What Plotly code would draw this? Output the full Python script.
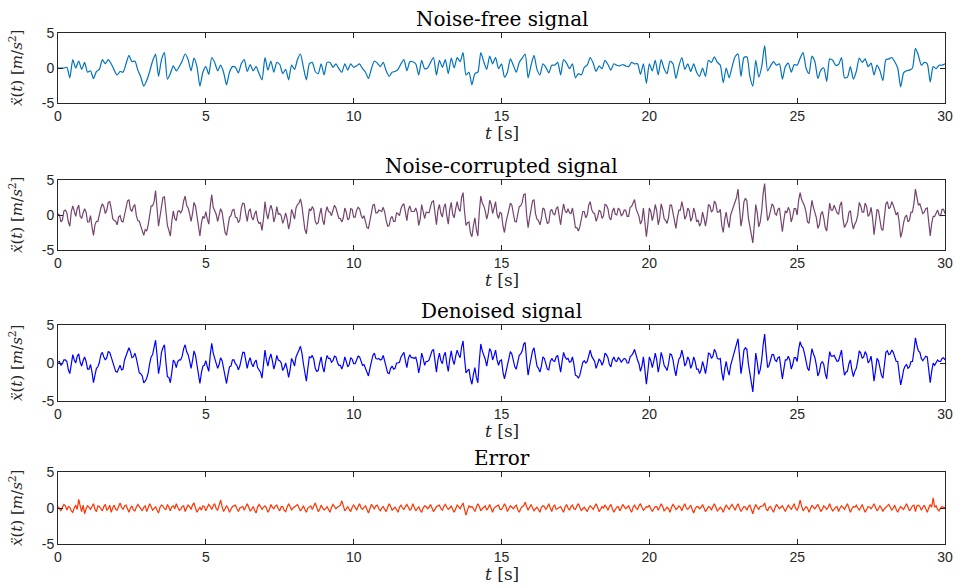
import plotly.graph_objects as go

# ---------------- data ----------------
# noise-free signal, sampled every 0.1 s (0..30 s)
dt_clean = 0.1
clean = [
 0, 0, 0, 0.1, -1.4, 1.2, 0.0, 1.0, -0.2, 0.8,
 -0.6, -0.4, -1.5, -0.5, -0.2, 1.2, 0.6, 1.2, 0.6, -0.3,
 -1.0, -0.5, -0.6, 0.6, 1.8, 0.9, 1.0, -0.3, -1.3, -2.6,
 -1.8, -0.5, 1.0, 2.0, -1.2, 1.2, 2.2, -1.6, -0.8, 0.3,
 -0.4, 0.2, 1.0, 2.0, 1.2, -0.4, 1.4, 0.2, -2.6, -0.6,
 0.2, -0.9, 1.5, 0.8, -0.4, 0.4, -0.6, -2.4, -0.6, 0.2,
 0.1, -0.7, 0.6, 1.2, -0.5, 0.5, -0.4, 0.2, -0.8, -1.7,
 1.5, -0.3, 1.0, -0.6, 0.8, 0.5, -0.8, -0.2, -1.7, 0.4,
 -0.2, 1.2, 2.0, 0.1, -1.7, 0.6, 0.8, -0.5, -0.8, 0.6,
 -1.0, 0.8, 0.8, 0.1, 0.6, -0.1, -0.6, 0.6, -0.3, 0.6,
 0.1, 0.3, 0.6, -0.1, -0.6, -1.5, -0.1, 1.0, 0.7, 0.2,
 0.8, -0.4, -1.2, -0.6, -0.5, -0.2, 0.6, 1.2, -0.4, 0.9,
 0.9, 0.6, -1.0, 1.1, -0.1, 0.0, 0.8, 1.5, -1.0, 1.1,
 0.1, 1.2, -0.8, 1.4, 0.0, 1.5, 0.9, 2.2, -1.0, -0.6,
 -2.4, -0.8, -0.6, 2.2, 0.9, -0.2, 1.7, 0.6, 1.5, -0.1,
 0.6, -1.3, -0.6, 1.3, 0.4, -0.6, 0.8, 1.4, 2.0, -1.4,
 0.4, 1.8, -0.2, -1.0, 0.6, 0.1, -0.7, 0.4, 0.4, 0.8,
 -1.0, 1.2, 0.7, -0.1, 0.6, -1.4, -0.8, -1.0, 0.1, 0.4,
 1.5, 0.7, -0.5, 0.3, -0.1, 1.1, 0.5, -0.3, 0.6, 0.4,
 0.3, 0.5, 0.3, 0.2, 0.8, 0.6, 0.6, -0.9, 0.6, -2.2,
 0.6, -0.4, 1.1, -1.0, 1.2, -0.1, -0.8, 1.0, 0.6, -1.5,
 0.3, 1.5, -0.2, 0.6, -0.5, 0.6, -0.6, -1.2, 0.0, -1.2,
 1.1, 0.8, 1.6, 0.8, 0.4, -2.1, 0.0, -1.4, 0.2, 1.6,
 2.0, -1.2, 1.5, 1.6, -1.2, -2.6, 1.1, -1.3, 0.2, 3.2,
 -0.4, 0.3, 0.9, 0.4, 0.6, -1.6, 0.2, 0.7, -0.6, 0.5,
 0.4, 1.4, 2.2, 0.0, -0.8, 1.7, 0.9, -1.5, -0.3, 0.0,
 -1.9, 1.3, 1.1, 0.4, 0.5, 1.5, -1.4, -1.3, 0.2, -1.6,
 -0.5, 1.4, 0.8, 1.3, 0.2, 0.7, -1.0, 0.4, -0.4, -1.8,
 1.2, 1.3, 1.5, 0.9, 0.0, -2.7, -0.7, -0.4, -0.3, 0.0,
 2.8, 1.8, 0.4, 0.8, 0.6, -2.0, 0.2, -0.1, 0.4, 0.4,
 0.6]

# noisy, denoised and error signals, sampled every 0.05 s (0..30 s)
dt_fine = 0.05
noisy = [
 0.2, 0.0, -1.0, -0.7, 0.6, 0.7, 0.3, -1.0, -1.6, 0.5, 1.3, 0.4, -0.2, 0.9, 1.4, -0.2, -0.5, 0.3, 0.9, 0.4,
 -1.0, -1.0, -0.1, -1.7, -2.9, -1.4, -0.9, -0.9, 0.3, 1.0, 1.6, 1.2, 0.2, 0.7, 1.8, 1.9, 0.9, -0.5, -0.8, -0.9,
 -1.4, -0.3, -0.1, -0.9, -1.0, 0.2, 1.1, 2.0, 2.2, 0.8, 0.5, 1.2, 1.5, -0.1, -0.8, -0.9, -1.6, -2.4, -2.9, -2.1,
 -2.3, -1.4, 0.1, 1.3, 1.3, 1.9, 3.5, 1.2, -1.6, -0.2, 1.6, 2.5, 2.6, 0.0, -1.5, -2.2, -3.0, -0.9, 0.6, -0.5,
 -0.8, 0.5, 0.6, 0.3, 0.7, 2.0, 2.7, 1.4, 1.0, 0.2, -0.9, 0.2, 1.8, 1.3, -0.3, -2.0, -3.0, -1.2, -0.2, -0.5,
 0.5, -0.6, -1.3, 1.3, 2.9, 1.1, 0.5, 0.1, -0.9, -0.1, 0.9, 0.4, -1.0, -2.5, -2.9, -1.4, -0.3, -0.1, 0.7, 0.8,
 -0.3, -0.4, -1.1, -0.7, 1.0, 1.7, 1.6, 0.2, -0.9, 0.5, 0.9, -0.3, -0.7, 0.1, 0.6, -0.8, -1.2, -1.1, -2.2, -0.5,
 1.9, 0.3, -0.6, 0.6, 1.4, 0.7, -1.0, -0.2, 1.2, 0.1, 0.2, -0.1, -1.2, -0.6, 0.3, -0.6, -2.0, -1.1, 0.8, 0.2,
 -0.6, 1.0, 1.5, 1.7, 2.3, 1.3, -0.3, -2.1, -2.7, -0.7, 0.9, 0.6, 1.2, 0.8, -0.9, -1.3, -1.1, 0.1, 1.0, -0.7,
 -1.4, 0.3, 1.2, 0.5, 0.4, -0.1, 0.5, 1.4, 1.0, 0.0, -0.5, -0.5, -1.0, -0.4, 1.0, 0.4, -0.7, -0.5, 0.9, 0.8,
 -0.3, -0.3, 0.7, 1.1, 0.9, 0.0, -0.5, -0.1, -0.9, -1.8, -1.9, -0.7, 0.3, 1.4, 1.5, 0.3, 0.3, 0.7, 0.6, 0.5,
 1.1, 0.4, -0.8, -1.6, -1.5, -0.5, -0.2, -0.9, -0.9, 0.3, 0.2, -0.1, 0.9, 1.4, 1.6, 0.2, -0.8, 0.8, 1.3, 0.5,
 0.5, 0.5, 1.0, 0.3, -1.5, -0.6, 1.5, 0.7, -0.5, 0.4, 0.4, 0.3, 1.2, 1.9, 2.0, 0.2, -1.4, 0.7, 1.5, 0.2,
 -0.3, 1.1, 1.6, -0.1, -1.3, 0.8, 1.8, 0.1, -0.4, 0.9, 1.9, 0.9, 0.5, 2.5, 3.2, 0.5, -1.5, -1.1, -1.0, -2.6,
 -3.1, -1.5, -0.4, -2.1, -3.0, 0.5, 2.7, 1.7, 1.3, 0.6, -0.6, 0.3, 2.1, 1.6, 0.2, 1.0, 1.9, 0.1, -0.5, 0.4,
 0.2, -1.6, -2.5, -1.1, -0.2, 0.4, 1.7, 1.4, 0.0, -0.9, -1.0, 0.4, 1.2, 1.3, 1.8, 2.9, 3.0, 0.0, -1.8, -0.4,
 0.8, 2.0, 2.2, 0.2, -0.6, -0.8, -1.4, -0.5, 1.0, 0.8, -0.3, -1.2, -1.1, 0.5, 0.8, 0.2, 0.0, 0.9, 1.2, -0.5,
 -1.4, 0.3, 1.6, 0.6, 0.3, 0.9, 0.3, 0.2, 1.0, -0.3, -1.8, -1.8, -2.3, -1.7, -0.6, 0.5, 0.5, -0.4, 0.0, 1.4,
 1.9, 0.8, 0.3, 0.2, -0.9, -0.3, 0.7, 0.5, -0.5, -0.1, 1.5, 1.4, 0.9, -0.4, -0.7, 0.5, 1.0, 0.1, 0.0, 1.0,
 0.7, -0.1, 0.1, 0.7, 0.7, -0.2, -0.2, 1.1, 1.2, 1.6, 2.2, 0.9, 0.2, -0.2, -1.3, -0.8, 1.0, -0.9, -3.1, -1.3,
 1.0, 0.5, -0.8, 0.1, 1.5, 0.6, -1.4, -0.5, 1.6, 0.8, -0.5, -0.8, -1.2, -0.3, 1.4, 1.4, 0.2, -1.1, -1.9, -0.3,
 0.7, 0.7, 1.9, 0.9, -0.6, -0.1, 1.0, 0.6, -0.9, -0.4, 1.0, 0.3, -1.0, -0.7, -1.6, -1.1, 0.4, -0.5, -1.6, -0.3,
 1.5, 1.3, 0.4, 0.7, 2.0, 1.6, 0.4, 0.4, 0.8, -1.5, -2.5, -0.6, 0.4, -1.0, -1.8, 0.0, 0.6, 1.2, 2.0, 2.5,
 3.7, 1.3, -1.6, -0.3, 1.9, 2.4, 2.0, -0.4, -1.6, -2.5, -4.0, -1.4, 1.5, 0.3, -1.7, -1.0, 0.6, 3.1, 4.5, 1.5,
 -0.8, -0.3, 0.7, 1.6, 1.3, 0.2, 0.0, 0.8, 1.0, -1.1, -2.4, -0.7, 0.6, 0.3, 1.1, 0.6, -1.0, -0.2, 0.9, 0.9,
 0.0, 2.1, 3.2, 2.2, 1.8, 1.3, 0.4, -1.0, -1.2, 0.9, 2.1, 1.1, 0.5, -0.4, -1.9, -1.4, 0.1, 0.5, -0.4, -1.8,
 -2.3, 0.0, 1.7, 0.7, 0.7, 1.4, 0.8, 0.3, 0.1, 1.4, 1.9, -0.6, -1.8, -1.3, -0.9, 0.4, 0.6, -1.0, -2.0, -1.3,
 -0.9, 0.0, 1.8, 1.3, 0.4, 0.4, 1.7, 1.2, -0.2, 0.1, 1.1, -0.4, -2.8, -1.1, 0.8, 0.6, -0.8, -2.0, -2.2, 0.0,
 1.6, 1.9, 0.9, 1.1, 1.9, 1.4, 0.5, 0.0, 0.4, -1.0, -3.2, -2.4, -1.1, -0.3, 0.0, -1.0, -0.7, 0.4, 0.4, 1.7,
 3.7, 2.3, 1.4, 1.6, 0.8, 0.2, 0.4, 0.9, 1.0, -1.6, -3.0, -1.2, -0.2, -0.2, 0.3, 0.7, 0.0, -0.1, 0.8, 0.8,
 0.2]

denoised = [
 0.1, 0.2, -0.3, -0.1, 0.4, 0.4, 0.2, -0.9, -1.4, 0.0, 1.1, 0.4, 0.0, 0.9, 1.2, 0.1, -0.4, 0.3, 0.8, 0.2,
 -0.8, -0.8, -0.2, -1.2, -2.6, -1.6, -0.7, -0.5, 0.1, 1.1, 1.4, 0.8, 0.4, 0.7, 1.5, 1.4, 0.8, 0.2, -0.6, -1.1,
 -1.2, -0.6, -0.3, -0.9, -0.8, 0.4, 0.9, 1.4, 2.0, 1.5, 0.7, 0.8, 1.3, 0.6, -0.6, -1.3, -1.4, -1.7, -2.6, -2.4,
 -2.0, -1.3, -0.1, 0.8, 1.1, 2.0, 3.0, 1.0, -1.4, -0.3, 1.4, 2.0, 2.4, 0.1, -1.8, -1.9, -2.6, -1.2, 0.4, 0.1,
 -0.6, 0.2, 0.4, 0.4, 0.9, 1.9, 2.4, 1.5, 1.1, 0.3, -0.7, 0.3, 1.6, 1.0, -0.1, -1.6, -2.7, -1.3, -0.4, -0.3,
 0.3, -0.5, -1.1, 1.1, 2.6, 1.3, 0.6, 0.2, -0.7, -0.2, 0.7, 0.3, -0.8, -1.9, -2.7, -1.5, -0.5, -0.4, 0.4, 0.4,
 -0.1, -0.3, -0.9, -0.4, 0.8, 1.4, 1.4, 0.3, -0.7, 0.2, 0.7, -0.1, -0.5, 0.1, 0.4, -0.6, -1.0, -1.2, -2.0, -0.4,
 1.7, 0.4, -0.4, 0.6, 1.2, 0.3, -0.8, -0.1, 1.0, 0.4, 0.3, 0.0, -1.0, -0.6, 0.0, -0.8, -1.9, -0.9, 0.6, 0.2,
 -0.4, 0.8, 1.4, 1.7, 2.2, 1.3, -0.1, -1.6, -2.4, -0.7, 0.8, 0.7, 1.0, 0.5, -0.7, -1.1, -1.0, 0.0, 0.8, -0.5,
 -1.2, 0.1, 1.0, 0.6, 0.6, 0.1, 0.3, 0.9, 0.8, 0.1, -0.3, -0.3, -0.8, -0.2, 0.8, 0.2, -0.5, -0.2, 0.7, 0.5,
 -0.1, -0.1, 0.5, 0.9, 0.8, 0.1, -0.3, -0.2, -0.8, -1.4, -1.7, -0.7, 0.1, 1.0, 1.3, 0.6, 0.5, 0.6, 0.4, 0.5,
 1.0, 0.3, -0.6, -1.3, -1.4, -0.7, -0.4, -0.8, -0.7, 0.0, 0.0, 0.1, 0.8, 1.2, 1.4, 0.3, -0.6, 0.6, 1.1, 0.7,
 0.7, 0.6, 0.8, 0.0, -1.3, -0.3, 1.3, 0.6, -0.3, 0.2, 0.2, 0.4, 1.0, 1.6, 1.8, 0.2, -1.2, 0.4, 1.3, 0.3,
 -0.1, 1.0, 1.4, -0.1, -1.1, 0.5, 1.6, 0.4, -0.2, 0.9, 1.7, 1.1, 0.7, 2.1, 2.9, 0.6, -1.3, -1.0, -0.8, -2.1,
 -2.8, -1.5, -0.6, -1.9, -2.6, 0.3, 2.5, 1.6, 1.1, 0.5, -0.4, 0.6, 1.9, 1.5, 0.4, 1.0, 1.7, 0.4, -0.3, 0.3,
 0.4, -1.2, -2.1, -1.2, -0.4, 0.4, 1.5, 1.2, 0.2, -0.5, -0.8, 0.3, 1.0, 1.2, 1.6, 2.5, 2.7, 0.3, -1.6, -0.4,
 0.6, 1.6, 2.0, 0.5, -0.4, -0.7, -1.2, -0.4, 0.8, 0.6, -0.1, -0.8, -0.9, 0.2, 0.6, 0.3, 0.2, 0.8, 1.0, -0.3,
 -1.2, 0.2, 1.4, 0.8, 0.5, 0.6, 0.1, 0.2, 0.8, -0.2, -1.6, -1.7, -2.0, -1.6, -0.8, 0.1, 0.3, 0.0, 0.2, 1.2,
 1.7, 0.9, 0.5, 0.2, -0.7, -0.2, 0.5, 0.3, -0.3, 0.2, 1.3, 1.1, 0.7, -0.2, -0.5, 0.4, 0.8, 0.3, 0.2, 0.7,
 0.5, 0.1, 0.3, 0.6, 0.5, 0.0, 0.0, 0.8, 1.0, 1.3, 1.8, 0.9, 0.4, -0.1, -1.1, -0.4, 0.8, -0.9, -2.8, -1.1,
 0.8, 0.3, -0.6, 0.2, 1.3, 0.4, -1.2, -0.2, 1.4, 0.7, -0.3, -0.6, -1.0, -0.1, 1.2, 1.1, 0.4, -0.8, -1.7, -0.4,
 0.5, 0.8, 1.7, 0.8, -0.4, 0.0, 0.8, 0.4, -0.7, -0.2, 0.8, 0.2, -0.8, -0.8, -1.4, -0.9, 0.2, -0.5, -1.4, -0.2,
 1.3, 1.2, 0.6, 0.9, 1.8, 1.4, 0.6, 0.5, 0.6, -1.2, -2.3, -0.8, 0.2, -0.9, -1.6, -0.3, 0.4, 1.0, 1.8, 2.3,
 3.2, 1.0, -1.4, -0.1, 1.7, 2.0, 1.8, -0.1, -1.4, -2.4, -3.8, -1.4, 1.3, 0.1, -1.5, -0.9, 0.4, 2.4, 3.8, 1.4,
 -0.6, -0.3, 0.5, 1.1, 1.1, 0.4, 0.2, 0.7, 0.8, -0.9, -2.1, -0.8, 0.4, 0.4, 0.9, 0.4, -0.8, -0.2, 0.7, 0.7,
 0.2, 1.8, 2.8, 2.2, 2.0, 1.2, 0.2, -0.7, -1.0, 0.7, 1.9, 1.2, 0.7, -0.3, -1.7, -1.2, -0.1, 0.2, -0.2, -1.4,
 -2.1, -0.1, 1.5, 0.9, 0.9, 1.0, 0.6, 0.2, 0.3, 1.2, 1.7, -0.2, -1.6, -1.2, -1.1, -0.1, 0.4, -0.9, -1.8, -1.1,
 -0.7, 0.3, 1.6, 1.3, 0.6, 0.8, 1.5, 1.1, 0.0, 0.3, 0.9, -0.6, -2.4, -1.0, 0.6, 0.3, -0.6, -1.6, -2.0, -0.1,
 1.4, 1.6, 1.1, 1.2, 1.7, 1.4, 0.7, 0.2, 0.2, -1.2, -2.9, -2.0, -0.9, -0.4, -0.2, -0.7, -0.5, 0.2, 0.2, 1.6,
 3.3, 2.3, 1.6, 1.4, 0.6, 0.3, 0.6, 0.9, 0.8, -1.1, -2.6, -1.1, 0.0, -0.3, 0.1, 0.4, 0.2, 0.2, 0.6, 0.7,
 0.4]

error = [
 0.2, -0.1, -0.4, 0.1, 0.5, 0.3, -0.3, 0.2, 0.1, -0.4, -0.6, 0.0, 0.4, -0.2, 1.2, 0.3, -0.5, 0.4, -0.8, -0.1,
 0.3, 0.1, -0.2, 0.2, 0.6, -0.2, -0.5, 0.3, 0.2, -0.1, -0.4, 0.2, 0.5, -0.3, -0.1, 0.4, -0.6, 0.0, 0.4, -0.2,
 -0.3, 0.2, 0.7, 0.1, -0.2, 0.3, 0.4, -0.1, -0.6, 0.0, 0.3, -0.3, -0.4, 0.1, 0.5, 0.2, -0.2, -0.4, 0.1, 0.3,
 -0.5, 0.0, 0.6, 0.2, -0.3, -0.1, 0.2, -0.3, -0.7, 0.1, 0.4, 0.3, -0.1, -0.2, 0.5, 0.1, -0.4, 0.2, 0.3, -0.1,
 0.6, 0.1, -0.3, -0.2, 0.2, 0.3, -0.5, 0.0, 0.4, 0.2, -0.2, 0.4, 0.7, 0.0, -0.6, -0.2, 0.1, -0.3, 0.3, 0.2,
 -0.4, 0.1, 0.5, 0.2, -0.2, 0.3, 0.6, -0.1, -0.3, 0.4, 1.1, 0.2, -0.5, -0.1, 0.3, 0.0, -0.6, -0.2, 0.2, 0.3,
 0.4, -0.1, -0.5, 0.0, 0.1, 0.2, -0.3, 0.3, 0.6, 0.1, -0.4, -0.2, 0.2, -0.3, -0.7, 0.1, 0.5, 0.2, -0.2, 0.1,
 0.3, 0.0, -0.6, -0.2, 0.5, 0.1, -0.1, 0.3, 0.4, -0.1, -0.4, 0.2, 0.2, -0.3, -0.5, 0.1, 0.6, 0.2, -0.3, 0.0,
 0.1, 0.3, 0.5, 0.1, -0.4, -0.1, 0.3, -0.2, -0.6, 0.0, 0.2, 0.3, -0.2, 0.2, 0.7, 0.1, -0.5, -0.2, 0.4, 0.0,
 -0.3, -0.1, 0.2, -0.2, -0.6, 0.1, 0.5, 0.2, -0.1, 0.1, 0.3, 0.4, 1.0, 0.2, -0.4, -0.1, 0.2, -0.2, -0.5, 0.1,
 0.4, 0.1, -0.3, 0.2, 0.6, 0.0, -0.2, 0.1, 0.3, -0.2, -0.7, -0.1, 0.5, 0.2, -0.1, 0.3, 0.4, -0.1, -0.4, 0.0,
 0.2, -0.2, -0.5, 0.1, 0.6, 0.2, -0.3, -0.1, 0.1, -0.2, -0.6, 0.1, 0.4, 0.0, -0.2, 0.2, 0.5, 0.1, -0.3, -0.1,
 0.6, 0.1, -0.4, -0.1, 0.2, -0.3, -0.6, 0.0, 0.3, 0.2, -0.1, 0.1, 0.5, 0.0, -0.5, -0.2, 0.2, 0.3, 0.4, -0.1,
 -0.3, 0.2, 0.5, 0.1, -0.2, 0.0, 0.3, -0.2, -0.6, -0.1, 0.4, 0.2, -0.1, 0.3, 0.7, -0.2, -1.0, -0.3, 0.3, 0.1,
 0.2, -0.1, -0.5, 0.1, 0.6, 0.2, -0.4, -0.1, 0.1, 0.3, -0.3, 0.0, 0.5, -0.2, -0.6, 0.0, 0.2, 0.3, 0.4, -0.2,
 -0.2, 0.1, 0.6, 0.2, -0.5, -0.1, 0.3, 0.1, -0.1, 0.2, 0.4, -0.2, -0.6, -0.1, 0.2, 0.3, 0.8, 0.2, -0.3, 0.1,
 0.5, 0.0, -0.4, -0.1, 0.1, -0.2, -0.6, 0.1, 0.3, 0.2, -0.2, 0.1, 0.6, 0.0, -0.5, 0.2, 0.4, -0.2, -0.1, 0.1,
 0.2, -0.2, -0.6, 0.1, 0.5, 0.0, -0.3, 0.2, 0.4, -0.1, -0.2, 0.3, 0.6, 0.1, -0.4, -0.1, 0.1, -0.2, -0.5, 0.0,
 0.3, 0.1, -0.2, 0.2, 0.6, 0.1, -0.5, -0.2, 0.2, 0.0, 0.4, 0.1, -0.3, 0.2, 0.5, -0.1, -0.6, -0.2, 0.1, 0.2,
 -0.4, 0.0, 0.5, 0.2, -0.1, 0.1, 0.3, -0.2, -0.6, 0.1, 0.4, 0.0, -0.2, 0.3, 0.6, 0.1, -0.3, -0.1, 0.2, 0.1,
 0.4, -0.1, -0.5, -0.1, 0.2, 0.2, -0.3, 0.1, 0.6, 0.2, -0.4, -0.2, 0.1, -0.1, -0.6, 0.1, 0.5, 0.2, -0.2, 0.0,
 0.3, 0.1, -0.4, 0.2, 0.6, 0.0, -0.2, 0.1, 0.4, -0.2, -0.7, -0.1, 0.2, 0.2, -0.1, 0.1, 0.5, 0.0, -0.5, -0.2,
 0.2, 0.1, -0.3, 0.2, 0.6, 0.1, -0.4, -0.2, 0.1, -0.1, -0.6, 0.0, 0.4, 0.1, -0.2, 0.2, 0.5, 0.1, -0.3, 0.2,
 0.6, 0.0, -0.5, -0.1, 0.2, 0.1, -0.3, 0.2, 0.4, -0.2, -0.8, 0.0, 0.5, 0.1, -0.2, 0.2, 0.3, 0.3, 0.7, -0.1,
 -0.4, 0.1, 0.2, -0.2, -0.6, 0.0, 0.5, 0.2, -0.1, 0.1, 0.3, -0.1, -0.5, 0.0, 0.4, 0.1, -0.2, 0.2, 0.6, -0.1,
 -0.3, 0.2, 1.1, 0.3, -0.4, -0.1, 0.2, 0.0, -0.6, -0.1, 0.4, 0.1, -0.1, 0.2, 0.5, 0.0, -0.5, -0.2, 0.3, 0.1,
 -0.2, 0.1, 0.6, 0.0, -0.4, -0.2, 0.1, 0.2, -0.5, 0.0, 0.3, 0.1, -0.2, 0.2, 0.6, 0.0, -0.6, -0.1, 0.2, 0.1,
 0.4, 0.0, -0.3, 0.1, 0.5, -0.1, -0.6, -0.2, 0.2, 0.1, -0.1, 0.2, 0.6, 0.1, -0.4, -0.1, 0.3, 0.0, -0.5, -0.1,
 0.1, 0.2, 0.5, 0.1, -0.3, 0.0, 0.4, -0.2, -0.6, -0.1, 0.2, 0.0, -0.2, 0.2, 0.6, 0.1, -0.4, -0.1, 0.3, 0.4,
 -0.5, 0.3, 0.4, 0.2, -0.3, 0.1, 0.4, -0.1, -0.6, 0.0, 0.5, 0.1, 1.4, 0.1, 0.3, -0.2, -0.4, 0.0, 0.2, 0.1,
 0.1]

titles = ["Noise-free signal", "Noise-corrupted signal", "Denoised signal", "Error"]
colors = ["#0072BD", "#74446E", "#0000FF", "#FF3300"]
x_ticks = [0, 5, 10, 15, 20, 25, 30]
y_ticks = [-5, 0, 5]

t_clean = [round(i * dt_clean, 3) for i in range(len(clean))]
t_fine = [round(i * dt_fine, 3) for i in range(len(noisy))]
series = [(t_clean, clean), (t_fine, noisy), (t_fine, denoised), (t_fine, error)]

# ---------------- layout geometry (pixels) ----------------
W, H = 964, 588
x_left, x_right = 58, 945
panels = [(33, 103), (180, 250), (325, 401), (472, 544)]  # top, bottom px


def py(px):
    return 1 - px / H


def pxx(px):
    return px / W


fig = go.Figure()
serif = "DejaVu Serif, Liberation Serif, serif"
sans = "Liberation Sans, Arial, sans-serif"

annotations = []
for i, (top, bot) in enumerate(panels):
    k = "" if i == 0 else str(i + 1)
    tx, yy = series[i]
    fig.add_trace(go.Scatter(
        x=tx, y=yy, mode="lines",
        line=dict(color=colors[i], width=1.2,
                  shape="spline" if i == 0 else "linear",
                  smoothing=0.6),
        xaxis="x" + k, yaxis="y" + k, showlegend=False,
        hoverinfo="skip"))
    axis_common = dict(showline=True, linecolor="#262626", linewidth=1,
                       mirror="ticks", ticks="inside", ticklen=5,
                       tickcolor="#262626", showgrid=False, zeroline=False,
                       automargin=False,
                       tickfont=dict(family=sans, size=14, color="#262626"))
    fig.layout["xaxis" + k] = dict(
        domain=[pxx(x_left), pxx(x_right)], anchor="y" + k,
        range=[0, 30], tickvals=x_ticks,
        ticktext=[str(v) for v in x_ticks], **axis_common)
    fig.layout["yaxis" + k] = dict(
        domain=[py(bot), py(top)], anchor="x" + k,
        range=[-5, 5], tickvals=y_ticks,
        ticktext=[str(v) for v in y_ticks], **axis_common)
    # panel title
    annotations.append(dict(
        text=titles[i], x=pxx((x_left + x_right) / 2), y=py(top),
        xref="paper", yref="paper", xanchor="center", yanchor="bottom",
        showarrow=False, font=dict(family=serif, size=20, color="#000")))
    # x-axis label
    annotations.append(dict(
        text="<i>t</i> [s]", x=pxx((x_left + x_right) / 2), y=py(bot + 18),
        xref="paper", yref="paper", xanchor="center", yanchor="top",
        showarrow=False, font=dict(family=serif, size=17, color="#262626")))
    # y-axis label
    annotations.append(dict(
        text="<i>ẍ</i>(<i>t</i>) [<i>m</i>/<i>s</i><sup>2</sup>]",
        x=pxx(16), y=py((top + bot) / 2),
        xref="paper", yref="paper", xanchor="center", yanchor="middle",
        textangle=-90, showarrow=False,
        font=dict(family=serif, size=15, color="#262626")))

fig.update_layout(
    width=W, height=H,
    margin=dict(l=0, r=0, t=0, b=0, autoexpand=False),
    paper_bgcolor="white", plot_bgcolor="white",
    annotations=annotations,
)

fig.write_html("out.html")
